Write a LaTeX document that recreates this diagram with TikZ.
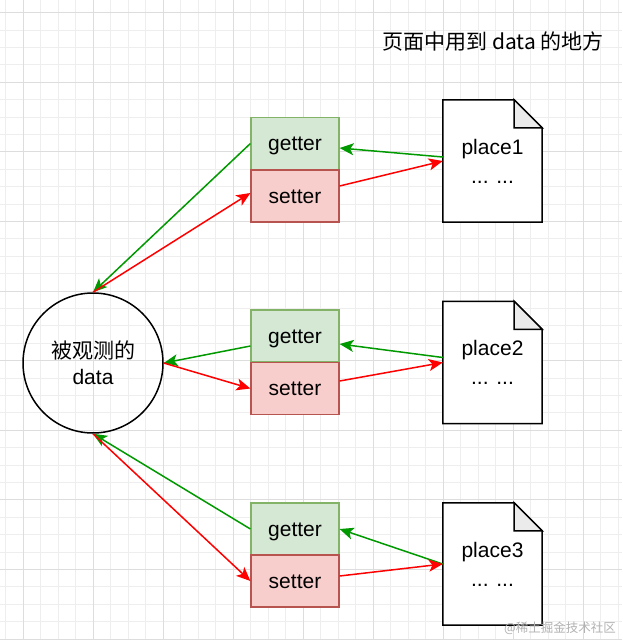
\documentclass[tikz,border=0pt]{standalone}
\usepackage{fontspec}
\setmainfont{Liberation Sans}
\newfontfamily\cjk{Noto Sans CJK SC}
\usetikzlibrary{arrows.meta}
\definecolor{gfill}{HTML}{D5E8D4}
\definecolor{gstroke}{HTML}{82B366}
\definecolor{rfill}{HTML}{F8CECC}
\definecolor{rstroke}{HTML}{B85450}
\definecolor{garrow}{HTML}{009900}
\definecolor{rarrow}{HTML}{FF0000}
\definecolor{foldgray}{HTML}{EBEBEB}
\definecolor{gridminor}{HTML}{EEEEEE}
\definecolor{gridmajor}{HTML}{DDDDDD}
\tikzset{
  getterbox/.style={draw=gstroke, fill=gfill, line width=1.2pt, minimum width=88pt, minimum height=52pt, inner sep=0pt, text height=16pt, text depth=2pt, font=\fontsize{21}{24}\selectfont},
  setterbox/.style={draw=rstroke, fill=rfill, line width=1.2pt, minimum width=88pt, minimum height=52pt, inner sep=0pt, text height=16pt, text depth=2pt, font=\fontsize{21}{24}\selectfont},
  docbox/.style={minimum width=99pt, minimum height=122pt, inner sep=0pt, align=center, font=\fontsize{21}{29}\selectfont},
  circnode/.style={circle, draw=black, line width=1.5pt, minimum size=140pt, inner sep=0pt, align=center, font=\fontsize{21}{26}\selectfont},
  garr/.style={draw=garrow, line width=1.5pt, -{Stealth[length=14pt,width=12pt,inset=3.5pt]}},
  rarr/.style={draw=rarrow, line width=1.5pt, -{Stealth[length=14pt,width=12pt,inset=3.5pt]}},
}
\newcommand{\docshape}[1]{%
  \draw[line width=1.5pt, fill=white] (#1.north west) -- ([xshift=-28pt]#1.north east) -- ([yshift=-28pt]#1.north east) -- (#1.south east) -- (#1.south west) -- cycle;
  \draw[line width=1.5pt, fill=foldgray] ([xshift=-28pt]#1.north east) -- ([yshift=-28pt]#1.north east) -- ([xshift=-28pt,yshift=-28pt]#1.north east) -- cycle;
}
\begin{document}
\begin{tikzpicture}[x=1pt,y=-1pt]
\useasboundingbox (0,0) rectangle (622,640);
\fill[white] (0,0) rectangle (622,640);
% grid
\foreach \k in {-1,...,34} {
  \pgfmathsetmacro{\gx}{23+17.5*\k}
  \draw[gridminor, line width=0.8pt] (\gx,0) -- (\gx,640);
}
\foreach \k in {0,...,36} {
  \pgfmathsetmacro{\gy}{12.5+17.4*\k}
  \draw[gridminor, line width=0.8pt] (0,\gy) -- (622,\gy);
}
\foreach \k in {0,...,8} {
  \pgfmathsetmacro{\gx}{23+70*\k}
  \draw[gridmajor, line width=0.8pt] (\gx,0) -- (\gx,640);
}
\foreach \k in {0,...,9} {
  \pgfmathsetmacro{\gy}{12.5+69.6*\k}
  \draw[gridmajor, line width=0.8pt] (0,\gy) -- (622,\gy);
}

% title
\node[font=\cjk\fontsize{21}{24}\selectfont] (title) at (493,42) {页面中用到 data 的地方};

% circle
\node[circnode] (c) at (93,363) {{\cjk 被观测的}\\data};

% getter / setter boxes
\node[getterbox] (g1) at (295,143.5) {getter};
\node[setterbox] (s1) at (295,196) {setter};
\node[getterbox] (g2) at (295,336) {getter};
\node[setterbox] (s2) at (295,388.5) {setter};
\node[getterbox] (g3) at (295,529) {getter};
\node[setterbox] (s3) at (295,581) {setter};

% documents
\node[docbox] (p1) at (492.5,161) {};
\node[docbox] (p2) at (492.5,362.5) {};
\node[docbox] (p3) at (492.5,564) {};
\docshape{p1}
\docshape{p2}
\docshape{p3}
\node[docbox] at (p1) {place1\\... ...};
\node[docbox] at (p2) {place2\\... ...};
\node[docbox] at (p3) {place3\\... ...};

% connectors to circle
\draw[garr] (g1.west) -- (c.north);
\draw[rarr] (c.north) -- ([yshift=3pt]s1.west);
\draw[garr] ([yshift=-10pt]g2.west) -- (c.east);
\draw[rarr] (c.east) -- (s2.west);
\draw[garr] (g3.west) -- (c.south);
\draw[rarr] (c.south) -- (s3.west);

% connectors to documents
\draw[garr] ([yshift=4pt]p1.west) -- ([yshift=-4.5pt]g1.east);
\draw[rarr] ([yshift=10pt]s1.east) -- (p1.west);
\draw[garr] ([yshift=5pt]p2.west) -- ([yshift=-8pt]g2.east);
\draw[rarr] ([yshift=7.5pt]s2.east) -- (p2.west);
\draw[garr] (p3.west) -- (g3.east);
\draw[rarr] ([yshift=5pt]s3.east) -- (p3.west);

% watermark
\node[text=black!30, font=\cjk\fontsize{12.5}{13}\selectfont] (wm) at (560,628) {@稀土掘金技术社区};
\end{tikzpicture}
\end{document}
